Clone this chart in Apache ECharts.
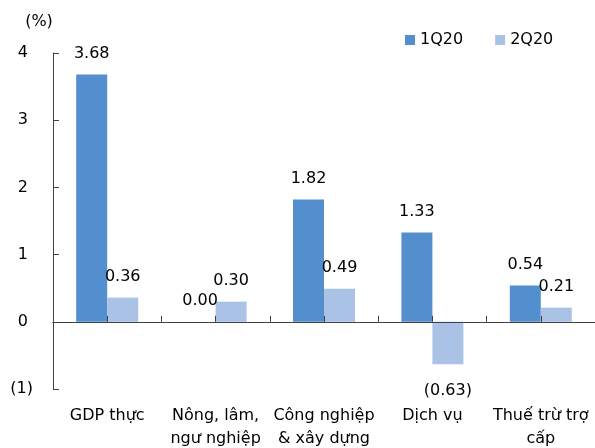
<!DOCTYPE html>
<html>
<head>
<meta charset="utf-8">
<script src="https://cdn.jsdelivr.net/npm/echarts@6/dist/echarts.min.js"></script>
<style>
  html, body { margin: 0; padding: 0; background: #fff; }
  #chart { width: 595px; height: 448px; }
</style>
</head>
<body>
<div id="chart"></div>
<script>
// GDP growth contribution by sector, 1Q20 vs 2Q20 (percentage points)
const categories = ['GDP thực', 'Nông, lâm,\nngư nghiệp', 'Công nghiệp\n& xây dựng', 'Dịch vụ', 'Thuế trừ trợ\ncấp'];
const seriesNames = ['1Q20', '2Q20'];
const q1Values = [3.68, 0.00, 1.82, 1.33, 0.54];
const q2Values = [0.36, 0.30, 0.49, -0.63, 0.21];
const yTicks = { min: -1, max: 4, interval: 1 };

const FONT = 'DejaVu Sans';
const TEXT = '#000';
const AXIS = '#404040';
const COLORS = ['#538FCF', '#AAC2E6'];

const fmt = v => v < 0 ? '(' + Math.abs(v).toFixed(2) + ')' : v.toFixed(2);

function barData(values) {
  return values.map(v => ({
    value: v,
    label: v < 0 ? { position: 'bottom', distance: 19 } : { position: 'top', distance: 13 }
  }));
}

const chart = echarts.init(document.getElementById('chart'), null, { renderer: 'canvas' });

chart.setOption({
  animation: false,
  color: COLORS,
  textStyle: { fontFamily: FONT, color: TEXT },
  grid: { left: 53, right: 0, top: 53, bottom: 59, containLabel: false, outerBoundsMode: 'none' },
  legend: {
    data: seriesNames,
    left: 405, top: 32, padding: 0,
    itemWidth: 10, itemHeight: 10, itemGap: 32,
    icon: 'rect',
    textStyle: { fontFamily: FONT, fontSize: 16, color: TEXT }
  },
  graphic: [{
    type: 'text',
    style: { x: 39, y: 22, text: '(%)', textAlign: 'center', textVerticalAlign: 'middle',
             font: '16px "' + FONT + '"', fill: TEXT }
  }],
  xAxis: [
    { // bars; zero line with ticks at category boundaries
      type: 'category', data: categories, position: 'bottom', z: 5,
      axisLine: { onZero: true, onZeroAxisIndex: 0, lineStyle: { color: AXIS, width: 1 } },
      axisTick: { show: true, inside: true, length: 6, interval: 0, lineStyle: { color: AXIS } },
      axisLabel: { show: false }, splitLine: { show: false }
    },
    { // ticks at category centres on the zero line
      type: 'category', data: categories, position: 'bottom', z: 5,
      axisLine: { show: true, onZero: true, onZeroAxisIndex: 0, lineStyle: { color: AXIS, width: 1 } },
      axisTick: { show: true, inside: true, length: 6, interval: 0, alignWithLabel: true, lineStyle: { color: AXIS } },
      axisLabel: { show: false }, splitLine: { show: false }
    },
    { // category labels along the bottom edge
      type: 'category', data: categories, position: 'bottom',
      axisLine: { show: false, onZero: false },
      axisTick: { show: false },
      axisLabel: { show: true, interval: 0, margin: 15, fontFamily: FONT, fontSize: 16, color: TEXT, lineHeight: 23 },
      splitLine: { show: false }
    }
  ],
  yAxis: {
    type: 'value', min: yTicks.min, max: yTicks.max, interval: yTicks.interval,
    axisLine: { show: true, lineStyle: { color: AXIS, width: 1 } },
    axisTick: { show: true, inside: true, length: 6, lineStyle: { color: AXIS } },
    splitLine: { show: false },
    axisLabel: {
      margin: 20, fontFamily: FONT, fontSize: 16, color: TEXT,
      formatter: v => v < 0 ? '(' + Math.abs(v) + ')' : '{p|' + v + '}',
      rich: { p: { fontFamily: FONT, fontSize: 16, color: TEXT, padding: [0, 5, 0, 0] } }
    }
  },
  series: [
    {
      name: seriesNames[0], type: 'bar', xAxisIndex: 0, barWidth: 31, barGap: '0%',
      data: barData(q1Values),
      label: { show: true, fontFamily: FONT, fontSize: 16, color: TEXT, formatter: p => fmt(p.value) }
    },
    {
      name: seriesNames[1], type: 'bar', xAxisIndex: 0, barWidth: 31, barGap: '0%',
      data: barData(q2Values),
      label: { show: true, fontFamily: FONT, fontSize: 16, color: TEXT, formatter: p => fmt(p.value) }
    }
  ]
});
</script>
</body>
</html>
